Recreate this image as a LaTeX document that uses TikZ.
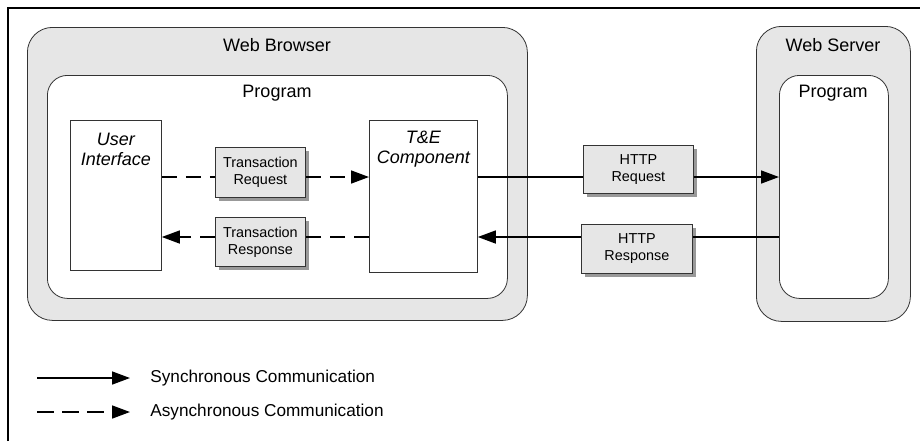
\documentclass[tikz,border=0pt]{standalone}
\usepackage{fontspec}
\setmainfont{Liberation Sans}
\usepackage{tikz}
\usetikzlibrary{arrows.meta,shadows,calc}
\definecolor{panel}{HTML}{E6E6E6}
\definecolor{edge}{HTML}{333333}
\tikzset{
	area/.style={draw=edge, fill=panel, rounded corners=12.5pt, anchor=north west, inner sep=0pt},
	prog/.style={draw=edge, fill=white, rounded corners=10pt, anchor=north west, inner sep=0pt},
	part/.style={draw=edge, fill=white, anchor=north west, inner sep=0pt},
	msg/.style={draw=edge, fill=panel, anchor=north west, inner sep=0pt, align=center,
		font=\fontsize{7.2}{8.6}\selectfont,
		drop shadow={shadow xshift=2pt, shadow yshift=-2pt, fill=black!40, opacity=1}},
	title/.style={font=\fontsize{9}{10.8}\selectfont},
	sync/.style={line width=0.75pt, -{Triangle[length=9pt,width=6.5pt]}},
	async/.style={sync, dash pattern=on 7.5pt off 4.5pt}
}

\begin{document}
\begin{tikzpicture}[x=0.5pt, y=-0.5pt]
\useasboundingbox (0,0) rectangle (920,441);

\draw[line width=1.1pt] (8,441)--(8,8)--(920,8);

% client side
\node[area, minimum width=250pt, minimum height=146.5pt] (browser) at (27,27) {};
\node[title] (browsertxt) at (277,45) {Web Browser};
\node[prog, minimum width=230pt, minimum height=111.5pt] (cprog) at (47,75) {};
\node[title] (cprogtxt) at (277,93) {Program};
\node[part, minimum width=45.5pt, minimum height=75pt] (ui) at (70,120) {};
\node[title, font=\fontsize{9}{10}\selectfont\itshape, align=center, anchor=north] (uitxt) at ($(ui.north)+(0,6)$) {User\\Interface};
\node[part, minimum width=54pt, minimum height=76pt] (tec) at (369,120) {};
\node[title, font=\fontsize{9}{10}\selectfont\itshape, align=center, anchor=north] (tectxt) at ($(tec.north)+(0,4)$) {T\&E\\Component};
\node[msg, minimum width=45pt, minimum height=25pt] (treq) at (215,147) {Transaction\\Request};
\node[msg, minimum width=45pt, minimum height=24.5pt] (tresp) at (215,217) {Transaction\\Response};

% server side
\node[area, minimum width=77pt, minimum height=147.5pt] (server) at (756,26) {};
\node[title] (servertxt) at (833,45) {Web Server};
\node[prog, minimum width=54.5pt, minimum height=111.5pt] (sprog) at (779,75) {};
\node[title] (sprogtxt) at (833,93) {Program};
\node[msg, minimum width=55pt, minimum height=24pt] (hreq) at (583,145) {HTTP\\Request};
\node[msg, minimum width=55.5pt, minimum height=24.5pt] (hresp) at (581,224) {HTTP\\Response};

\coordinate (row1) at (0,177);
\coordinate (row2) at (0,237);

\draw[line width=0.75pt, dash pattern=on 7.5pt off 4.5pt] (ui.east |- row1)--(treq.west |- row1);
\draw[async] (treq.east |- row1)--(tec.west |- row1);
\draw[line width=0.75pt, dash pattern=on 7.5pt off 4.5pt] (tec.west |- row2)--(tresp.east |- row2);
\draw[async] (tresp.west |- row2)--(ui.east |- row2);

\draw[line width=0.75pt] (tec.east |- row1)--(hreq.west |- row1);
\draw[sync] (hreq.east |- row1)--(sprog.west |- row1);
\draw[line width=0.75pt] (sprog.west |- row2)--(hresp.east |- row2);
\draw[sync] (hresp.west |- row2)--(tec.east |- row2);

% legend
\coordinate (s1) at (37,378);
\coordinate (s2) at (130,378);
\coordinate (a1) at (37,412);
\coordinate (a2) at (130,412);
\draw[sync] (s1)--(s2);
\draw[line width=0.75pt, -{Triangle[length=9pt,width=6.5pt]}, dash pattern=on 8.5pt off 4pt] (a1)--(a2);
\node[anchor=west, inner sep=0pt, font=\fontsize{8.6}{10}\selectfont] (stxt) at (150,378) {Synchronous Communication};
\node[anchor=west, inner sep=0pt, font=\fontsize{8.6}{10}\selectfont] (atxt) at (150,412) {Asynchronous Communication};

\end{tikzpicture}
\end{document}
